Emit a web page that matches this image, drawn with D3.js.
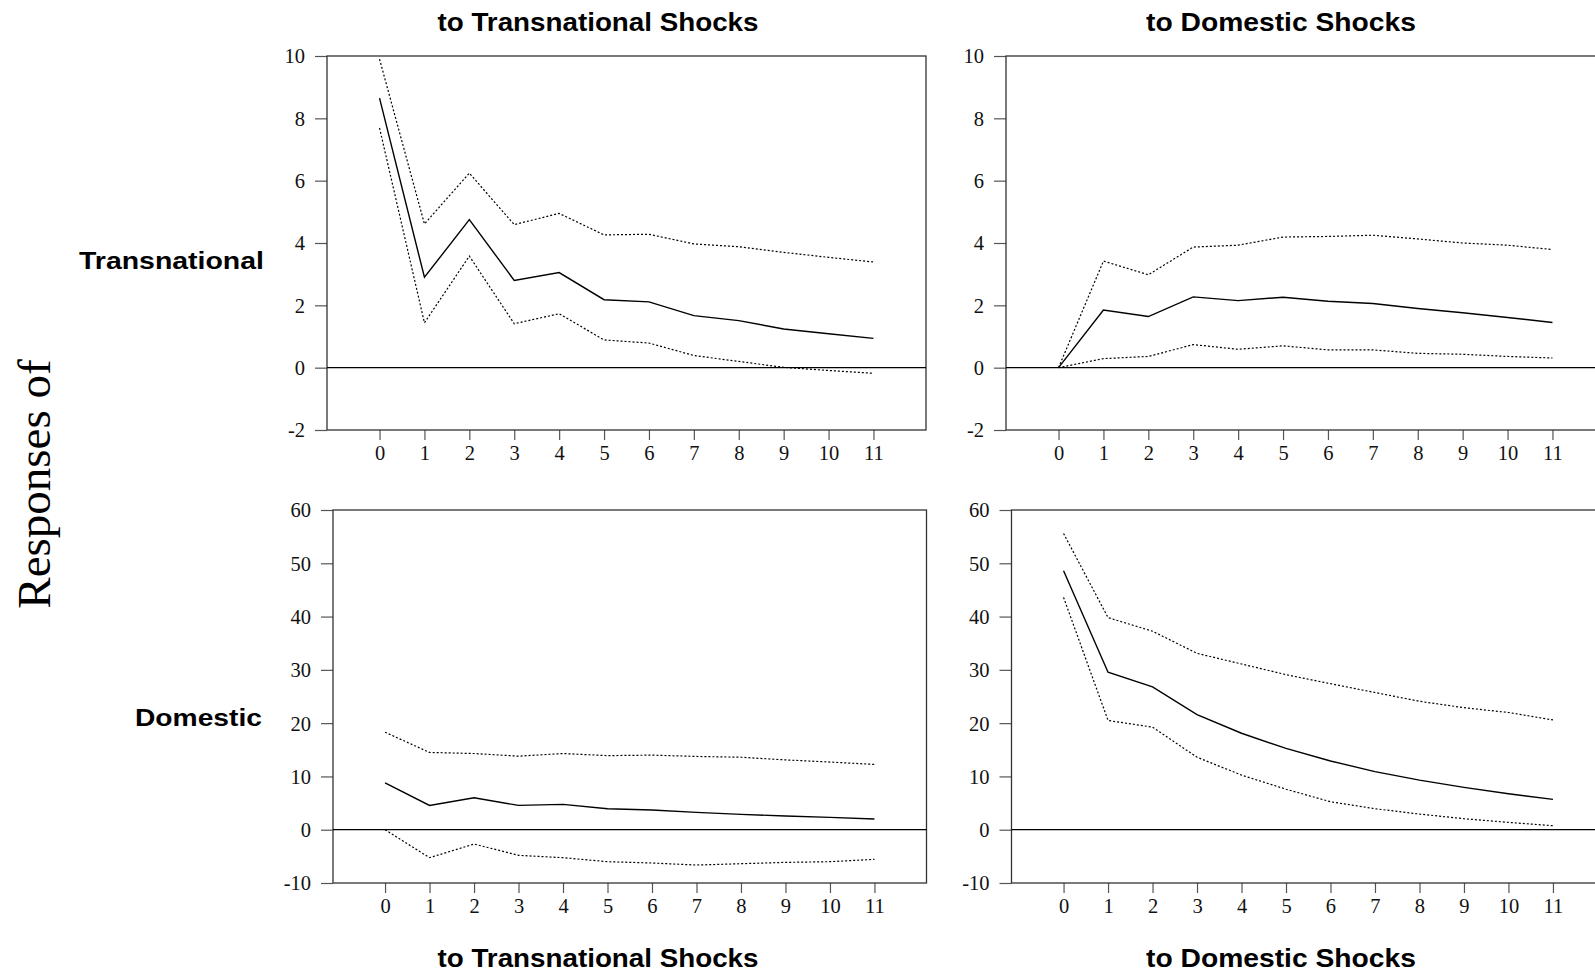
<!DOCTYPE html>
<html>
<head>
<meta charset="utf-8">
<script src="https://cdn.jsdelivr.net/npm/d3@7"></script>
<style>
  html, body { margin: 0; padding: 0; background: #fff; }
  svg { display: block; }
  .tick text { font-family: "Liberation Serif", "Times New Roman", serif; font-size: 20.5px; fill: #111; }
  .tick line { stroke: #555; stroke-width: 1.2; }
  .title { font-family: "Liberation Sans", Arial, sans-serif; font-weight: bold; font-size: 25px; fill: #000; }
  .rowlab { font-family: "Liberation Sans", Arial, sans-serif; font-weight: bold; font-size: 23px; fill: #000; }
</style>
</head>
<body>
<svg id="chart" width="1595" height="974"></svg>
<script>
// Forecast horizons (periods after the shock)
const horizons = [0, 1, 2, 3, 4, 5, 6, 7, 8, 9, 10, 11];

// Tick values for the two row scales
const yTicksTransnational = [-2, 0, 2, 4, 6, 8, 10];
const yTicksDomestic = [-10, 0, 10, 20, 30, 40, 50, 60];

// Response of Transnational to Transnational shocks
const transToTransMid   = [8.65, 2.90, 4.75, 2.80, 3.05, 2.18, 2.11, 1.67, 1.51, 1.24, 1.09, 0.94];
const transToTransUpper = [9.90, 4.61, 6.24, 4.59, 4.95, 4.26, 4.28, 3.97, 3.88, 3.70, 3.54, 3.39];
const transToTransLower = [7.69, 1.44, 3.58, 1.41, 1.73, 0.89, 0.79, 0.39, 0.20, 0.01, -0.09, -0.18];

// Response of Transnational to Domestic shocks
const transToDomMid   = [0, 1.85, 1.64, 2.27, 2.15, 2.26, 2.13, 2.06, 1.90, 1.76, 1.61, 1.45];
const transToDomUpper = [0, 3.42, 2.98, 3.87, 3.93, 4.19, 4.21, 4.25, 4.13, 4.00, 3.93, 3.79];
const transToDomLower = [0, 0.29, 0.36, 0.74, 0.59, 0.70, 0.57, 0.57, 0.46, 0.43, 0.36, 0.31];

// Response of Domestic to Transnational shocks
const domToTransMid   = [8.8, 4.56, 6.0, 4.56, 4.75, 3.94, 3.69, 3.25, 2.88, 2.56, 2.31, 2.0];
const domToTransUpper = [18.3, 14.5, 14.3, 13.8, 14.3, 13.9, 14.0, 13.75, 13.6, 13.1, 12.7, 12.25];
const domToTransLower = [0.0, -5.25, -2.69, -4.81, -5.25, -6.0, -6.25, -6.63, -6.38, -6.13, -6.0, -5.56];

// Response of Domestic to Domestic shocks
const domToDomMid   = [48.6, 29.56, 26.8, 21.6, 18.1, 15.25, 12.9, 10.9, 9.3, 7.94, 6.75, 5.69];
const domToDomUpper = [55.6, 39.8, 37.25, 33.1, 31.1, 29.1, 27.4, 25.75, 24.1, 22.9, 22.0, 20.6];
const domToDomLower = [43.6, 20.5, 19.25, 13.6, 10.25, 7.6, 5.25, 3.94, 2.94, 2.06, 1.38, 0.75];

const svg = d3.select("#chart");

// Panel frames: left, right, top, bottom in page pixels
const panels = [
  { left: 327,  right: 926,  top: 56,  bottom: 430, yDomain: [-2, 10],  yTicks: yTicksTransnational,
    mid: transToTransMid, upper: transToTransUpper, lower: transToTransLower },
  { left: 1006, right: 1605, top: 56,  bottom: 430, yDomain: [-2, 10],  yTicks: yTicksTransnational,
    mid: transToDomMid, upper: transToDomUpper, lower: transToDomLower },
  { left: 333,  right: 926.5, top: 510, bottom: 883, yDomain: [-10, 60], yTicks: yTicksDomestic,
    mid: domToTransMid, upper: domToTransUpper, lower: domToTransLower },
  { left: 1011.5, right: 1605, top: 510, bottom: 883, yDomain: [-10, 60], yTicks: yTicksDomestic,
    mid: domToDomMid, upper: domToDomUpper, lower: domToDomLower }
];

// plain hyphen-minus for negative tick labels
const fmt = d => String(d);

panels.forEach(p => {
  const x = d3.scaleLinear().domain([-1.17, 12.17]).range([p.left, p.right]);
  const y = d3.scaleLinear().domain(p.yDomain).range([p.bottom, p.top]);
  const g = svg.append("g");

  // y axis
  const ya = g.append("g")
    .attr("transform", `translate(${p.left},0)`)
    .call(d3.axisLeft(y).tickValues(p.yTicks).tickSize(12).tickPadding(10).tickFormat(fmt));
  ya.select(".domain").remove();
  ya.selectAll(".tick text").attr("dy", "0.34em");

  // x axis
  const xa = g.append("g")
    .attr("transform", `translate(0,${p.bottom})`)
    .call(d3.axisBottom(x).tickValues(horizons).tickSize(10).tickPadding(5).tickFormat(fmt));
  xa.select(".domain").remove();

  // frame
  g.append("rect")
    .attr("x", p.left).attr("y", p.top)
    .attr("width", p.right - p.left).attr("height", p.bottom - p.top)
    .attr("fill", "none").attr("stroke", "#333").attr("stroke-width", 1.3);

  // zero line
  g.append("line")
    .attr("x1", p.left).attr("x2", p.right)
    .attr("y1", y(0)).attr("y2", y(0))
    .attr("stroke", "#000").attr("stroke-width", 1.3);

  const line = d3.line().x((d, i) => x(horizons[i])).y(d => y(d));

  [p.upper, p.lower].forEach(band => {
    g.append("path").datum(band)
      .attr("d", line)
      .attr("fill", "none").attr("stroke", "#000")
      .attr("stroke-width", 1.2).attr("stroke-dasharray", "2,2");
  });

  g.append("path").datum(p.mid)
    .attr("d", line)
    .attr("fill", "none").attr("stroke", "#000").attr("stroke-width", 1.4);
});

// Column titles (top and bottom)
const colTitles = [
  { text: "to Transnational Shocks", x: 598, len: 321 },
  { text: "to Domestic Shocks", x: 1281, len: 270 }
];
colTitles.forEach(t => {
  [31, 967].forEach(yb => {
    svg.append("text").attr("class", "title")
      .attr("x", t.x - t.len / 2).attr("y", yb)
      .attr("textLength", t.len).attr("lengthAdjust", "spacingAndGlyphs")
      .text(t.text);
  });
});

// Row labels
svg.append("text").attr("class", "rowlab")
  .attr("x", 79).attr("y", 269)
  .attr("textLength", 185).attr("lengthAdjust", "spacingAndGlyphs")
  .text("Transnational");
svg.append("text").attr("class", "rowlab")
  .attr("x", 135).attr("y", 726)
  .attr("textLength", 127).attr("lengthAdjust", "spacingAndGlyphs")
  .text("Domestic");

// Shared vertical label
svg.append("text")
  .attr("transform", "translate(50,484) rotate(-90)")
  .attr("text-anchor", "middle")
  .attr("font-family", "Liberation Serif, Times New Roman, serif")
  .attr("font-size", 47)
  .attr("fill", "#000")
  .text("Responses of");
</script>
</body>
</html>
